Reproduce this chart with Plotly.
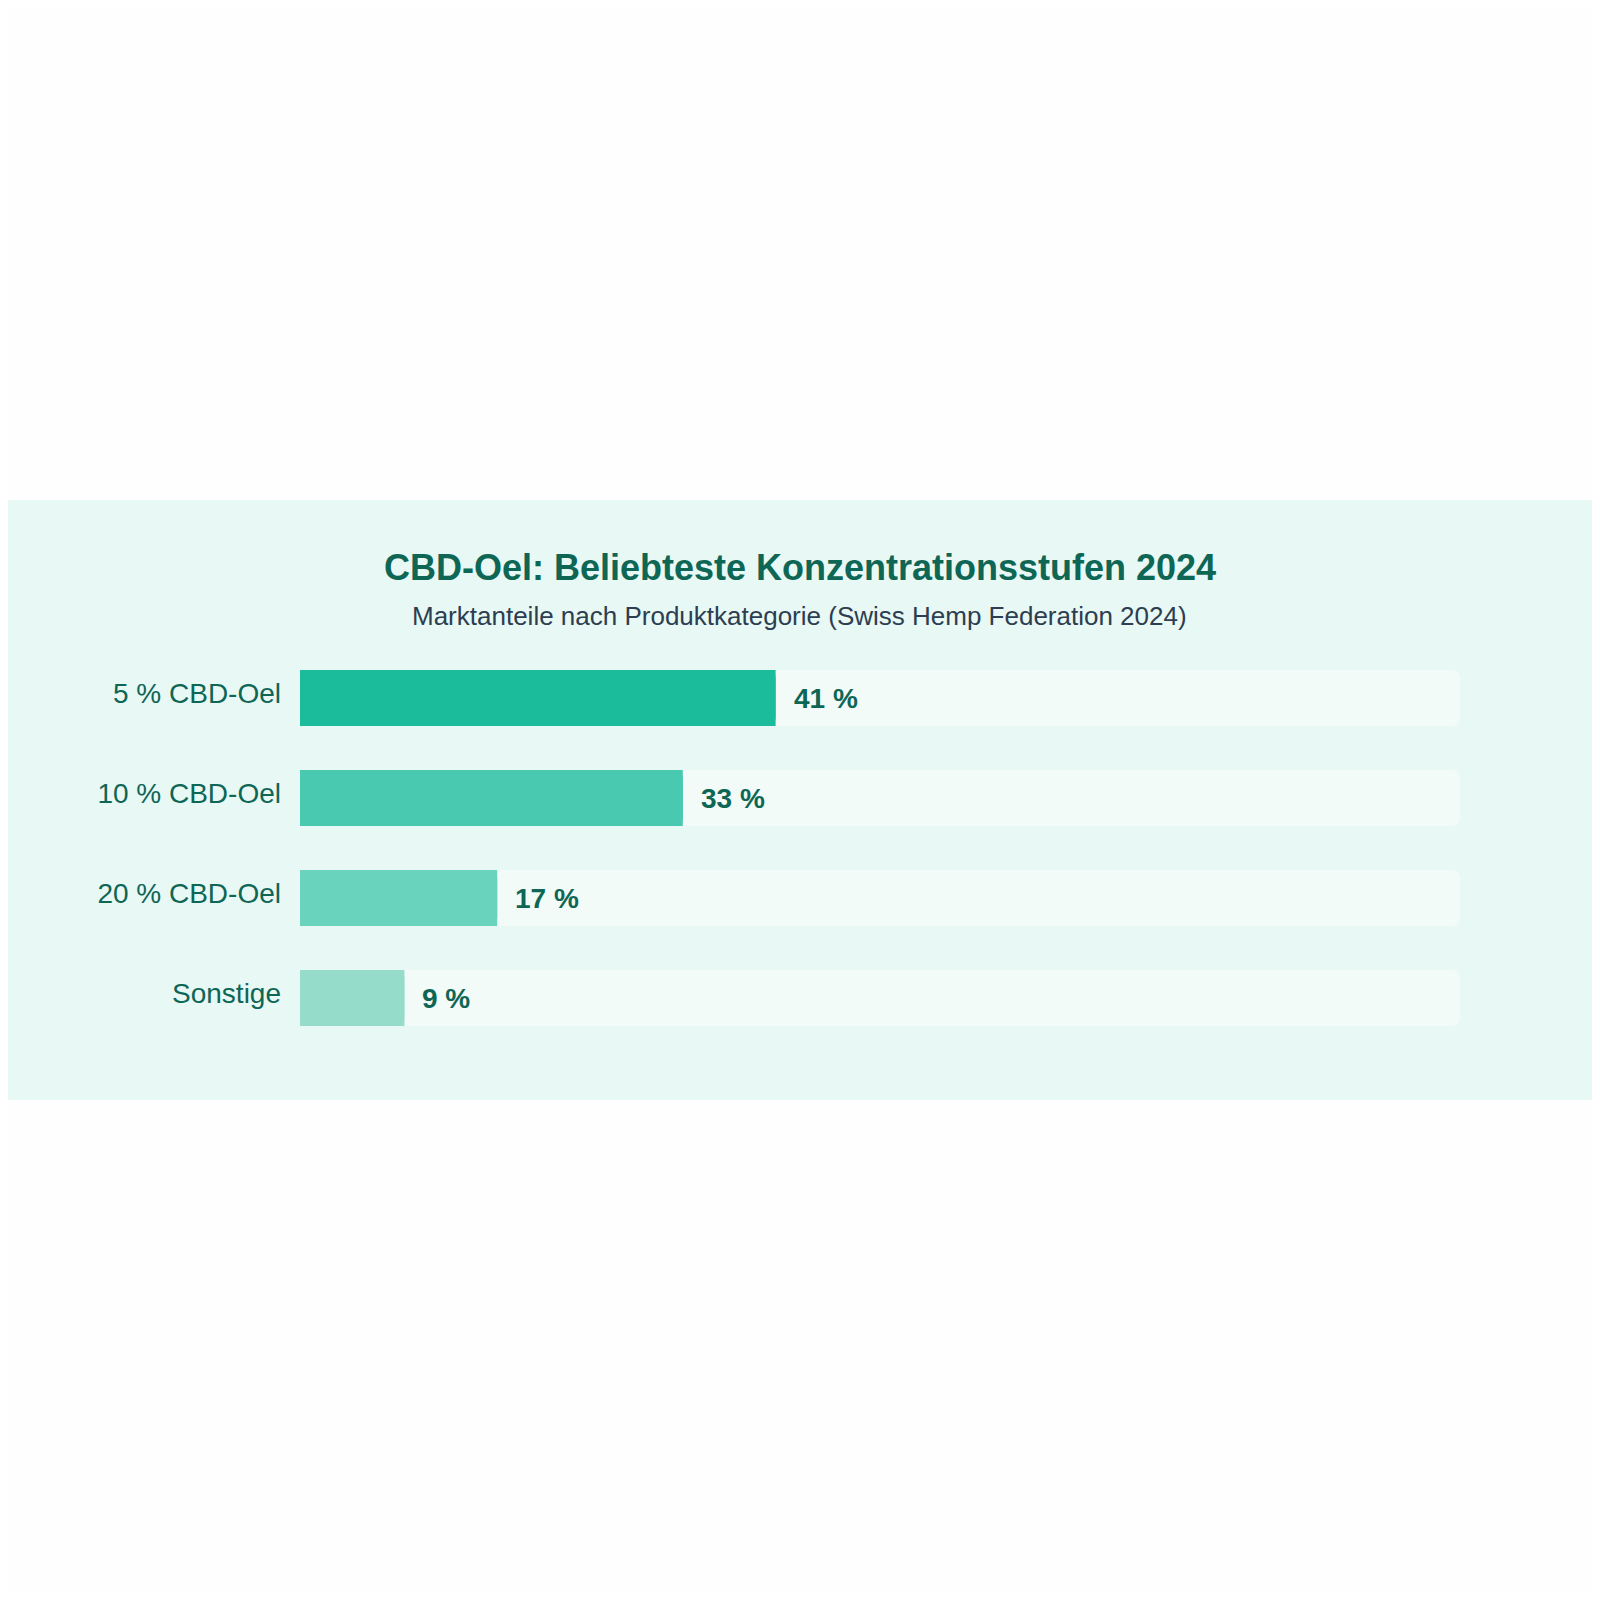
import plotly.graph_objects as go

# data
kategorien = ["5 % CBD-Oel", "10 % CBD-Oel", "20 % CBD-Oel", "Sonstige"]
anteile = [41, 33, 17, 9]
farben = ["#1abc9c", "#48c9b0", "#69d3be", "#95dccb"]
maximum = [100, 100, 100, 100]

titel = "CBD-Oel: Beliebteste Konzentrationsstufen 2024"
untertitel = "Marktanteile nach Produktkategorie (Swiss Hemp Federation 2024)"

dunkelgruen = "#0e6655"

fig = go.Figure()

# helle Spur hinter jedem Balken
fig.add_trace(go.Bar(
    y=kategorien, x=maximum, orientation="h",
    marker=dict(color="#f2fbf8", cornerradius=8, line=dict(width=0)),
    width=0.56, hoverinfo="skip", showlegend=False,
))

# gleicher Balken rueckwaerts gezeichnet -> linke Ecken auch rund
fig.add_trace(go.Bar(
    y=kategorien, x=[-v for v in anteile], base=anteile, orientation="h",
    marker=dict(color=farben, cornerradius=8, line=dict(width=0)),
    width=0.56, hoverinfo="skip", showlegend=False,
))

fig.add_trace(go.Bar(
    y=kategorien, x=anteile, orientation="h",
    marker=dict(color=farben, cornerradius=8, line=dict(width=0)),
    width=0.56, hoverinfo="skip", showlegend=False,
))

for kat, wert in zip(kategorien, anteile):
    fig.add_annotation(
        x=wert, y=kat, text=f"<b>{wert} %</b>", showarrow=False,
        xanchor="left", xshift=16,
        font=dict(family="Arial", size=28, color=dunkelgruen),
    )

fig.add_annotation(
    x=0.431, y=1.08, xref="paper", yref="paper", text=untertitel,
    showarrow=False, xanchor="center", yanchor="middle",
    font=dict(family="Arial", size=26, color="#2c3e50"),
)

# Hintergrundband
fig.add_shape(
    type="rect", xref="paper", yref="paper",
    x0=-0.2517, x1=1.1138, y0=-0.13, y1=1.37,
    fillcolor="#e8f8f5", line=dict(width=0), layer="below",
)

fig.update_layout(
    width=1584, height=1584,
    barmode="overlay",
    paper_bgcolor="#fefefe",
    plot_bgcolor="rgba(0,0,0,0)",
    margin=dict(l=292, r=132, t=640, b=544),
    title=dict(
        text=f"<b>{titel}</b>", x=0.5, xanchor="center",
        y=1 - 559 / 1584, yanchor="middle",
        font=dict(family="Arial", size=36, color=dunkelgruen),
    ),
    xaxis=dict(range=[0, 100], visible=False, fixedrange=True),
    yaxis=dict(
        autorange=False, range=[3.5, -0.5],
        showgrid=False, zeroline=False, showline=False,
        ticks="", ticklabelstandoff=18, ticklabelshift=5,
        tickfont=dict(family="Arial", size=28, color=dunkelgruen),
        fixedrange=True,
    ),
    font=dict(family="Arial"),
)

fig.write_html("out.html")
